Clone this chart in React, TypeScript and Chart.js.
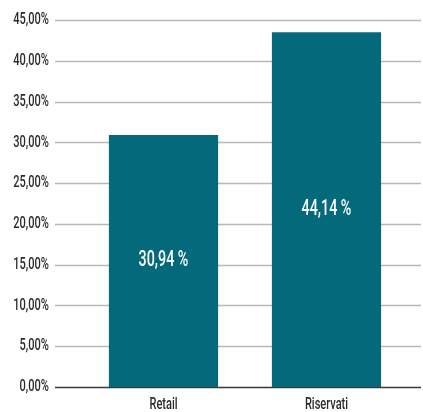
import React, { useEffect, useRef } from "react";
import { Chart, registerables } from "chart.js";

Chart.register(...registerables);

const categories = ["Retail", "Riservati"];
const barValues = [30.9, 43.5];
const barLabels = ["30,94 %", "44,14 %"];
const yMin = 0;
const yMax = 45;
const yStep = 5;

const FONT = "Roboto, 'Liberation Sans', sans-serif";
const SQUEEZE = 0.65;
const BAR_COLOR = "#05697c";
const TEXT_COLOR = "#2b2b2b";

const fmt = (v: number) => v.toFixed(2).replace(".", ",") + "%";

function squeezedText(ctx: any, text: string, x: number, y: number, align: "left" | "right" | "center") {
  ctx.save();
  ctx.translate(x, y);
  ctx.scale(SQUEEZE, 1);
  ctx.textAlign = align;
  ctx.textBaseline = "middle";
  ctx.fillText(text, 0, 0);
  ctx.restore();
}

const gridPlugin = {
  id: "customGrid",
  beforeDatasetsDraw(chart: any) {
    const { ctx, scales } = chart;
    const y = scales.y;
    ctx.save();
    for (let v = yMin; v <= yMax + 1e-9; v += yStep) {
      const py = Math.round(y.getPixelForValue(v)) + 0.5;
      ctx.beginPath();
      ctx.strokeStyle = v === yMin ? "#3a3a3a" : "#b8b8b8";
      ctx.lineWidth = 1.5;
      ctx.moveTo(55, py);
      ctx.lineTo(421, py);
      ctx.stroke();
    }
    ctx.restore();
  },
};

const textPlugin = {
  id: "condensedText",
  afterDatasetsDraw(chart: any) {
    const { ctx, scales } = chart;
    const meta = chart.getDatasetMeta(0);
    ctx.save();
    // bar value labels
    ctx.fillStyle = "#ffffff";
    ctx.font = `500 22px ${FONT}`;
    meta.data.forEach((el: any, i: number) => {
      squeezedText(ctx, barLabels[i], el.x, (el.y + el.base) / 2, "center");
    });
    // y tick labels
    ctx.fillStyle = TEXT_COLOR;
    ctx.font = `500 17px ${FONT}`;
    const y = scales.y;
    y.ticks.forEach((t: any, i: number) => {
      squeezedText(ctx, fmt(Number(t.value)), 49, y.getPixelForTick(i), "right");
    });
    // x tick labels
    const x = scales.x;
    categories.forEach((c, i) => {
      squeezedText(ctx, c, x.getPixelForTick(i), 405, "center");
    });
    ctx.restore();
  },
};

export default function App() {
  const ref = useRef<HTMLCanvasElement>(null);
  useEffect(() => {
    document.body.style.margin = "0";
    const chart = new Chart(ref.current as HTMLCanvasElement, {
      type: "bar",
      data: {
        labels: categories,
        datasets: [
          {
            data: barValues,
            backgroundColor: BAR_COLOR,
            borderWidth: 0,
            barPercentage: 0.67,
            categoryPercentage: 1,
          },
        ],
      },
      options: {
        animation: false,
        responsive: false,
        maintainAspectRatio: false,
        layout: { padding: { top: 20, right: 15, left: 0, bottom: 0 } },
        plugins: { legend: { display: false }, tooltip: { enabled: false } },
        scales: {
          x: {
            grid: { display: false, drawTicks: false },
            border: { display: false },
            ticks: { display: false },
            afterFit(scale: any) {
              scale.height = 25;
            },
          },
          y: {
            min: yMin,
            max: yMax,
            grid: { display: false, drawTicks: false },
            border: { display: false },
            ticks: { display: false, stepSize: yStep },
            afterFit(scale: any) {
              scale.width = 82;
            },
          },
        },
      },
      plugins: [gridPlugin, textPlugin],
    });
    return () => chart.destroy();
  }, []);
  return (
    <div style={{ width: 423, height: 412 }}>
      <canvas ref={ref} width={423} height={412} style={{ display: "block" }} />
    </div>
  );
}
